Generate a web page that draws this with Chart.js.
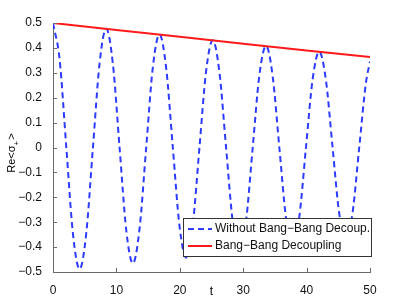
<!DOCTYPE html>
<html>
<head>
<meta charset="utf-8">
<script src="https://cdn.jsdelivr.net/npm/chart.js@4.4.1/dist/chart.umd.min.js"></script>
<style>
  html, body { margin: 0; padding: 0; background: #fff; }
  #chart { display: block; }
</style>
</head>
<body>
<canvas id="chart" width="409" height="306"></canvas>
<script>
// valores
var tempo = [0, 1.05, 2.1, 3.15, 4.2, 5.25, 6.3, 7.35, 8.4, 9.45, 10.5, 11.55, 12.6, 13.65, 14.7, 15.75,
    16.8, 17.85, 18.9, 19.95, 21.0, 22.05, 23.1, 24.15, 25.2, 26.25, 27.3, 28.35, 29.4, 30.45, 31.5,
    32.55, 33.6, 34.65, 35.7, 36.75, 37.8, 38.85, 39.9, 40.95, 42.0, 43.05, 44.1, 45.15, 46.2, 47.25,
    48.3, 49.35, 50];
var semDesacopl = [0.5, 0.352, 0, -0.347, -0.488, -0.343, 0, 0.339, 0.477, 0.335, 0, -0.331, -0.465, -0.327, 0, 0.323,
    0.454, 0.319, 0, -0.315, -0.442, -0.311, 0, 0.307, 0.431, 0.302, 0, -0.298, -0.419, -0.294, 0,
    0.290, 0.408, 0.286, 0, -0.282, -0.396, -0.278, 0, 0.274, 0.385, 0.270, 0, -0.266, -0.373, -0.262,
    0, 0.258, 0.345];
var tempoBB = [0, 10, 20, 30, 40, 50];
var comDesacopl = [0.5, 0.472, 0.445, 0.417, 0.39, 0.363];
var ticksX = [0, 10, 20, 30, 40, 50];
var ticksY = [-0.5, -0.4, -0.3, -0.2, -0.1, 0, 0.1, 0.2, 0.3, 0.4, 0.5];
var legendas = ['Without Bang\u2212Bang Decoup.', 'Bang\u2212Bang Decoupling'];

var azul = '#2b3bff', vermelho = '#ff1a1a', eixo = '#6a6a6a', fonte = '"Liberation Sans", Arial, sans-serif';

function pontos(xs, ys) {
    var r = [];
    for (var i = 0; i < xs.length; i++) r.push({ x: xs[i], y: ys[i] });
    return r;
}

function fmt(v) {
    if (Math.abs(v) < 1e-9) return '0';
    return (v < 0 ? '\u2212' : '') + Math.abs(v).toFixed(1);
}

var extras = {
    id: 'extras',
    afterDraw: function (chart) {
        var c = chart.ctx, a = chart.chartArea, sx = chart.scales.x, sy = chart.scales.y;
        c.save();
        // ticks para dentro
        c.strokeStyle = eixo;
        c.lineWidth = 1;
        c.beginPath();
        ticksX.forEach(function (v) {
            var p = Math.round(sx.getPixelForValue(v)) + 0.5;
            c.moveTo(p, a.bottom); c.lineTo(p, a.bottom - 4);
        });
        ticksY.forEach(function (v) {
            var p = Math.round(sy.getPixelForValue(v)) + 0.5;
            c.moveTo(a.left, p); c.lineTo(a.left + 4, p);
        });
        c.stroke();

        // titulos dos eixos
        c.fillStyle = '#000';
        c.font = '12px ' + fonte;
        c.textAlign = 'center';
        c.textBaseline = 'middle';
        c.fillText('t', (a.left + a.right) / 2, 292);
        c.save();
        c.translate(12, 152);
        c.rotate(-Math.PI / 2);
        c.textAlign = 'left';
        c.font = '11px ' + fonte;
        var w1 = c.measureText('Re<\u03c3').width;
        var w2 = c.measureText(' >').width;
        c.font = '8px ' + fonte;
        var ws = c.measureText('+').width;
        var x0 = -(w1 + ws + w2) / 2;
        c.font = '11px ' + fonte;
        c.fillText('Re<\u03c3', x0, 0);
        c.font = '8px ' + fonte;
        c.fillText('+', x0 + w1, 5);
        c.font = '11px ' + fonte;
        c.fillText(' >', x0 + w1 + ws - 2, 0);
        c.restore();

        // legenda
        var bx = 183, by = 218, bw = 188, bh = 38;
        c.fillStyle = '#fff';
        c.fillRect(bx, by, bw, bh);
        c.strokeStyle = '#333';
        c.lineWidth = 1;
        c.strokeRect(bx + 0.5, by + 0.5, bw, bh);
        c.font = '12px ' + fonte;
        c.textAlign = 'left';
        c.fillStyle = '#111';
        var cores = [azul, vermelho];
        for (var i = 0; i < 2; i++) {
            var yy = by + 11 + i * 17;
            c.strokeStyle = cores[i];
            c.lineWidth = 2;
            c.setLineDash(i === 0 ? [6, 4] : []);
            c.beginPath();
            c.moveTo(bx + 5, yy); c.lineTo(bx + 29, yy);
            c.stroke();
            c.setLineDash([]);
            c.fillText(legendas[i], bx + 32, yy);
        }
        c.restore();
    }
};

new Chart(document.getElementById('chart'), {
    type: 'line',
    data: {
        datasets: [{
            label: legendas[1],
            data: pontos(tempoBB, comDesacopl),
            borderColor: vermelho,
            borderWidth: 2,
            pointRadius: 0,
            fill: false
        }, {
            label: legendas[0],
            data: pontos(tempo, semDesacopl),
            borderColor: azul,
            borderWidth: 2,
            borderDash: [6, 4],
            pointRadius: 0,
            fill: false,
            cubicInterpolationMode: 'monotone'
        }]
    },
    plugins: [extras],
    options: {
        responsive: false,
        animation: false,
        devicePixelRatio: 1,
        layout: { padding: { top: 23, right: 39, left: 0, bottom: 0 } },
        plugins: { legend: { display: false }, tooltip: { enabled: false } },
        scales: {
            x: {
                type: 'linear', min: 0, max: 50,
                afterFit: function (s) { s.height = 34; },
                afterBuildTicks: function (s) { s.ticks = ticksX.map(function (v) { return { value: v }; }); },
                grid: { display: false },
                border: { display: true, color: eixo, width: 1 },
                ticks: { color: '#111', font: { family: fonte, size: 12 }, padding: 3, maxRotation: 0 }
            },
            y: {
                type: 'linear', min: -0.5, max: 0.5,
                afterFit: function (s) { s.width = 53; },
                afterBuildTicks: function (s) { s.ticks = ticksY.map(function (v) { return { value: v }; }); },
                grid: { display: false },
                border: { display: true, color: eixo, width: 1 },
                ticks: { color: '#111', font: { family: fonte, size: 12 }, padding: 3, callback: fmt }
            }
        }
    }
});
</script>
</body>
</html>
